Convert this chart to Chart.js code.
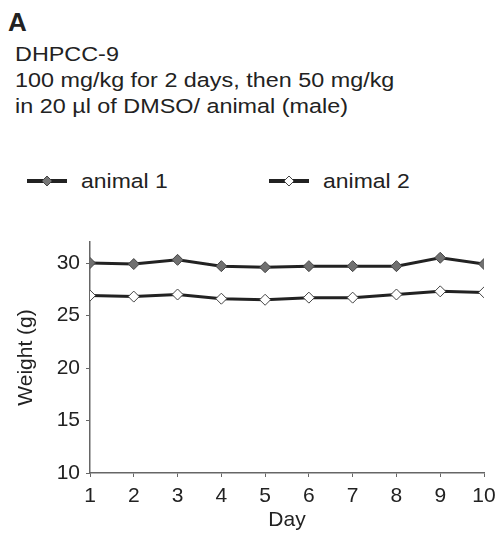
<!DOCTYPE html>
<html>
<head>
<meta charset="utf-8">
<script src="https://cdn.jsdelivr.net/npm/chart.js@4"></script>
<style>
  html, body { margin: 0; padding: 0; background: #fff; }
  body { width: 500px; height: 533px; position: relative; overflow: hidden;
         font-family: 'Liberation Sans', Arial, sans-serif; color: #222; }
  .panel { position: absolute; left: 8px; top: 7px; font-size: 26px; font-weight: bold; }
  .head { position: absolute; left: 15px; top: 41px; font-size: 20.5px; line-height: 26px;
          transform: scaleX(1.14); transform-origin: 0 0; white-space: nowrap; }
  .legend { position: absolute; top: 168px; font-size: 20.5px; display: flex; align-items: center; }
  .legend svg { margin-right: 13px; }
  .legend span { display: inline-block; transform: scaleX(1.12); transform-origin: 0 50%; }
  #wrap { position: absolute; left: 0; top: 230px; width: 500px; height: 303px; }
</style>
</head>
<body>
<div class="panel">A</div>
<div class="head">DHPCC-9<br>100 mg/kg for 2 days, then 50 mg/kg<br>in 20 µl of DMSO/ animal (male)</div>
<div class="legend" style="left:26px">
  <svg width="42" height="26"><line x1="1" y1="13" x2="41" y2="13" stroke="#222" stroke-width="4"/><polygon points="21,8 26,13 21,18 16,13" fill="#777" stroke="#444" stroke-width="1"/></svg><span>animal 1</span>
</div>
<div class="legend" style="left:268px">
  <svg width="42" height="26"><line x1="1" y1="13" x2="41" y2="13" stroke="#222" stroke-width="4"/><polygon points="21,8 26,13 21,18 16,13" fill="#fff" stroke="#444" stroke-width="1"/></svg><span>animal 2</span>
</div>
<div id="wrap"><canvas id="chart"></canvas></div>
<script>
const days = [1, 2, 3, 4, 5, 6, 7, 8, 9, 10];
const animal1 = [30.0, 29.9, 30.3, 29.7, 29.6, 29.7, 29.7, 29.7, 30.5, 29.9];
const animal2 = [26.9, 26.8, 27.0, 26.6, 26.5, 26.7, 26.7, 27.0, 27.3, 27.2];
const yTicks = [10, 15, 20, 25, 30];

Chart.defaults.font.family = "'Liberation Sans', Arial, sans-serif";
Chart.defaults.color = '#222';

function series(label, values, fill) {
  return {
    label: label,
    data: values.map((v, i) => ({ x: days[i], y: v })),
    borderColor: '#222', borderWidth: 3,
    pointStyle: 'rectRot', pointRadius: 5.5,
    pointBackgroundColor: fill, pointBorderColor: '#444', pointBorderWidth: 1,
    tension: 0,
  };
}

new Chart(document.getElementById('chart'), {
  type: 'line',
  data: { datasets: [series('animal 1', animal1, '#707070'), series('animal 2', animal2, '#fff')] },
  options: {
    animation: false, responsive: true, maintainAspectRatio: false,
    layout: { padding: { top: 12, right: 16, left: 0, bottom: 0 } },
    plugins: { legend: { display: false }, tooltip: { enabled: false } },
    scales: {
      x: {
        type: 'linear', min: 1, max: 10,
        grid: { drawOnChartArea: false, tickLength: 4, color: '#666' },
        border: { color: '#666', width: 1.5 },
        ticks: { stepSize: 1, font: { size: 21 }, padding: 7, color: '#222' },
        title: { display: true, text: 'Day', font: { size: 21 }, padding: 0, color: '#222' },
        afterFit: s => { s.height = 60; s.paddingLeft = 0; s.paddingRight = 0; },
      },
      y: {
        min: 10, max: 32,
        grid: { drawOnChartArea: false, tickLength: 4, color: '#666' },
        border: { color: '#666', width: 1.5 },
        ticks: { font: { size: 21 }, padding: 6, color: '#222' },
        afterBuildTicks: s => { s.ticks = yTicks.map(v => ({ value: v })); },
        title: { display: true, text: 'Weight (g)', font: { size: 21 }, padding: { top: 14, bottom: 0 }, color: '#222' },
        afterFit: s => { s.width = 90; s.paddingTop = 0; s.paddingBottom = 0; },
      },
    },
  },
});
</script>
</body>
</html>
